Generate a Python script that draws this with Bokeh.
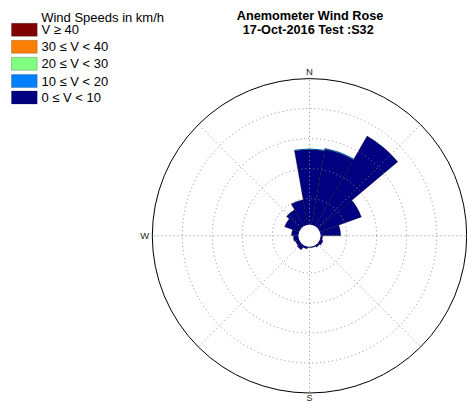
import numpy as np
from bokeh.plotting import figure
from bokeh.models import ColumnDataSource, Label
from bokeh.embed import file_html
from bokeh.resources import INLINE

# ---------------- data ----------------
directions = [0, 20, 40, 60, 80, 100, 120, 140, 160, 180, 200, 220, 240, 260, 280, 300, 320, 340]
sector_width = 20

speed_labels = ["0 \u2264 V < 10", "10 \u2264 V < 20", "20 \u2264 V < 30", "30 \u2264 V < 40", "V \u2265 40"]
speed_colors = ["#000080", "#0080FF", "#80FF80", "#FF8000", "#800000"]

freq_0_10 = [13.15, 13.45, 18.0, 8.0, 4.0, 1.0, 1.2, 1.0, 0.8, 0.8, 1.0, 1.5, 1.3, 1.5, 1.8, 3.2, 3.8, 4.9]
freq_10_20 = [0.15, 0.15, 0.0, 0.0, 0.0, 0.0, 0.0, 0.0, 0.0, 0.0, 0.0, 0.0, 0.0, 0.0, 0.0, 0.0, 0.0, 0.0]
freq_20_30 = [0.0, 0.0, 0.0, 0.0, 0.0, 0.0, 0.0, 0.0, 0.0, 0.0, 0.0, 0.0, 0.0, 0.0, 0.0, 0.0, 0.0, 0.0]
freq_30_40 = [0.0, 0.0, 0.0, 0.0, 0.0, 0.0, 0.0, 0.0, 0.0, 0.0, 0.0, 0.0, 0.0, 0.0, 0.0, 0.0, 0.0, 0.0]
freq_40_up = [0.0, 0.0, 0.0, 0.0, 0.0, 0.0, 0.0, 0.0, 0.0, 0.0, 0.0, 0.0, 0.0, 0.0, 0.0, 0.0, 0.0, 0.0]
speed_bins = [freq_0_10, freq_10_20, freq_20_30, freq_30_40, freq_40_up]

ring_freqs = [5, 10, 15, 20, 25]
grid_angles = [0, 45, 90, 135, 180, 225, 270, 315]

title_line1 = "Anemometer Wind Rose"
title_line2 = "17-Oct-2016  Test :S32"
legend_title = "Wind Speeds in km/h"

# ---------------- geometry ----------------
W, H = 467, 404
PX = 6.0                       # pixels per % frequency
cx_px, cy_px = 309.0, 235.3    # rose centre (from left, from top)
r0 = 7.2 / PX                  # radial offset of the zero ring
hole = 11.0 / PX               # white centre hole
R_out = r0 + ring_freqs[-1]


def to_data(xp, yp):
    return (xp - cx_px) / PX, (cy_px - yp) / PX


p = figure(width=W, height=H, output_backend="svg", toolbar_location=None,
           x_range=(-cx_px / PX, (W - cx_px) / PX),
           y_range=(-(H - cy_px) / PX, cy_px / PX),
           x_axis_location=None, y_axis_location=None,
           min_border=0, outline_line_color=None)
p.xgrid.visible = False
p.ygrid.visible = False
p.background_fill_color = "white"
p.border_fill_color = "white"

# ---------------- sectors ----------------
dirs = np.array(directions, dtype=float)
start = np.deg2rad(90 - (dirs + sector_width / 2))
end = np.deg2rad(90 - (dirs - sector_width / 2))

cum = np.zeros(len(directions))
for lab, col, vals in zip(speed_labels, speed_colors, speed_bins):
    v = np.array(vals, dtype=float)
    inner = r0 + cum
    cum = cum + v
    outer = r0 + cum
    m = v > 0
    if m.any():
        src = ColumnDataSource(dict(inner=inner[m], outer=outer[m], start=start[m], end=end[m]))
        p.annular_wedge(x=0, y=0, inner_radius="inner", outer_radius="outer",
                        start_angle="start", end_angle="end", source=src,
                        fill_color=col, line_color="black", line_width=0.5, line_alpha=0.6)

# ---------------- grid ----------------
for f in ring_freqs[:-1]:
    p.circle(x=0, y=0, radius=r0 + f, fill_alpha=0, line_color="#8c8c8c",
             line_dash="1 3", line_width=1)
ga = np.deg2rad(np.array(grid_angles, dtype=float))
p.segment(x0=hole * np.cos(ga), y0=hole * np.sin(ga),
          x1=R_out * np.cos(ga), y1=R_out * np.sin(ga),
          line_color="#8c8c8c", line_dash="1 3", line_width=1)
p.circle(x=0, y=0, radius=R_out, fill_alpha=0, line_color="black", line_width=1)
p.circle(x=0, y=0, radius=hole, fill_color="white", line_color=None)

# compass labels
lab_style = dict(text_font="Liberation Sans", text_font_size="9.5px", text_color="#262626")
p.add_layout(Label(x=0, y=R_out + 0.2, text="N", text_align="center", text_baseline="bottom", **lab_style))
p.add_layout(Label(x=-(R_out + 0.5), y=0, text="W", text_align="right", text_baseline="middle", **lab_style))
p.add_layout(Label(x=0, y=(cy_px - 397.6) / PX, text="S", text_align="center",
                   text_baseline="middle", text_font="Liberation Sans",
                   text_font_size="9px", text_color="#262626"))

# ---------------- titles ----------------
tstyle = dict(text_font="Liberation Sans", text_font_size="12.7px", text_font_style="bold",
              text_color="black", text_align="center", text_baseline="alphabetic",
              x_units="screen", y_units="screen")
p.add_layout(Label(x=309.5, y=H - 15.2, text=title_line1, **tstyle))
p.add_layout(Label(x=309.5, y=H - 29.4, text=title_line2, **tstyle))

# ---------------- legend (drawn by hand) ----------------
p.add_layout(Label(x=40.7, y=H - 17.0, text=legend_title, x_units="screen", y_units="screen",
                   text_font="Liberation Sans", text_font_size="13px", text_color="black",
                   text_baseline="alphabetic"))
row_centres = [29.3, 46.3, 63.3, 80.6, 97.0]
box_left, box_right, box_h = 11.0, 36.7, 13.0
lx, ly, lw, lh, lc = [], [], [], [], []
for yc, col in zip(row_centres, speed_colors[::-1]):
    xd, yd = to_data((box_left + box_right) / 2, yc)
    lx.append(xd); ly.append(yd)
    lw.append((box_right - box_left) / PX); lh.append(box_h / PX); lc.append(col)
p.rect(x=lx, y=ly, width=lw, height=lh, fill_color=lc, line_color="black",
       line_alpha=0.35, line_width=0.6)
for yc, lab in zip(row_centres, speed_labels[::-1]):
    p.add_layout(Label(x=41.0, y=H - yc, text=lab, x_units="screen", y_units="screen",
                       text_font="Liberation Sans", text_font_size="13px", text_color="black",
                       text_baseline="middle"))

open("out.html", "w").write(file_html(p, INLINE))
